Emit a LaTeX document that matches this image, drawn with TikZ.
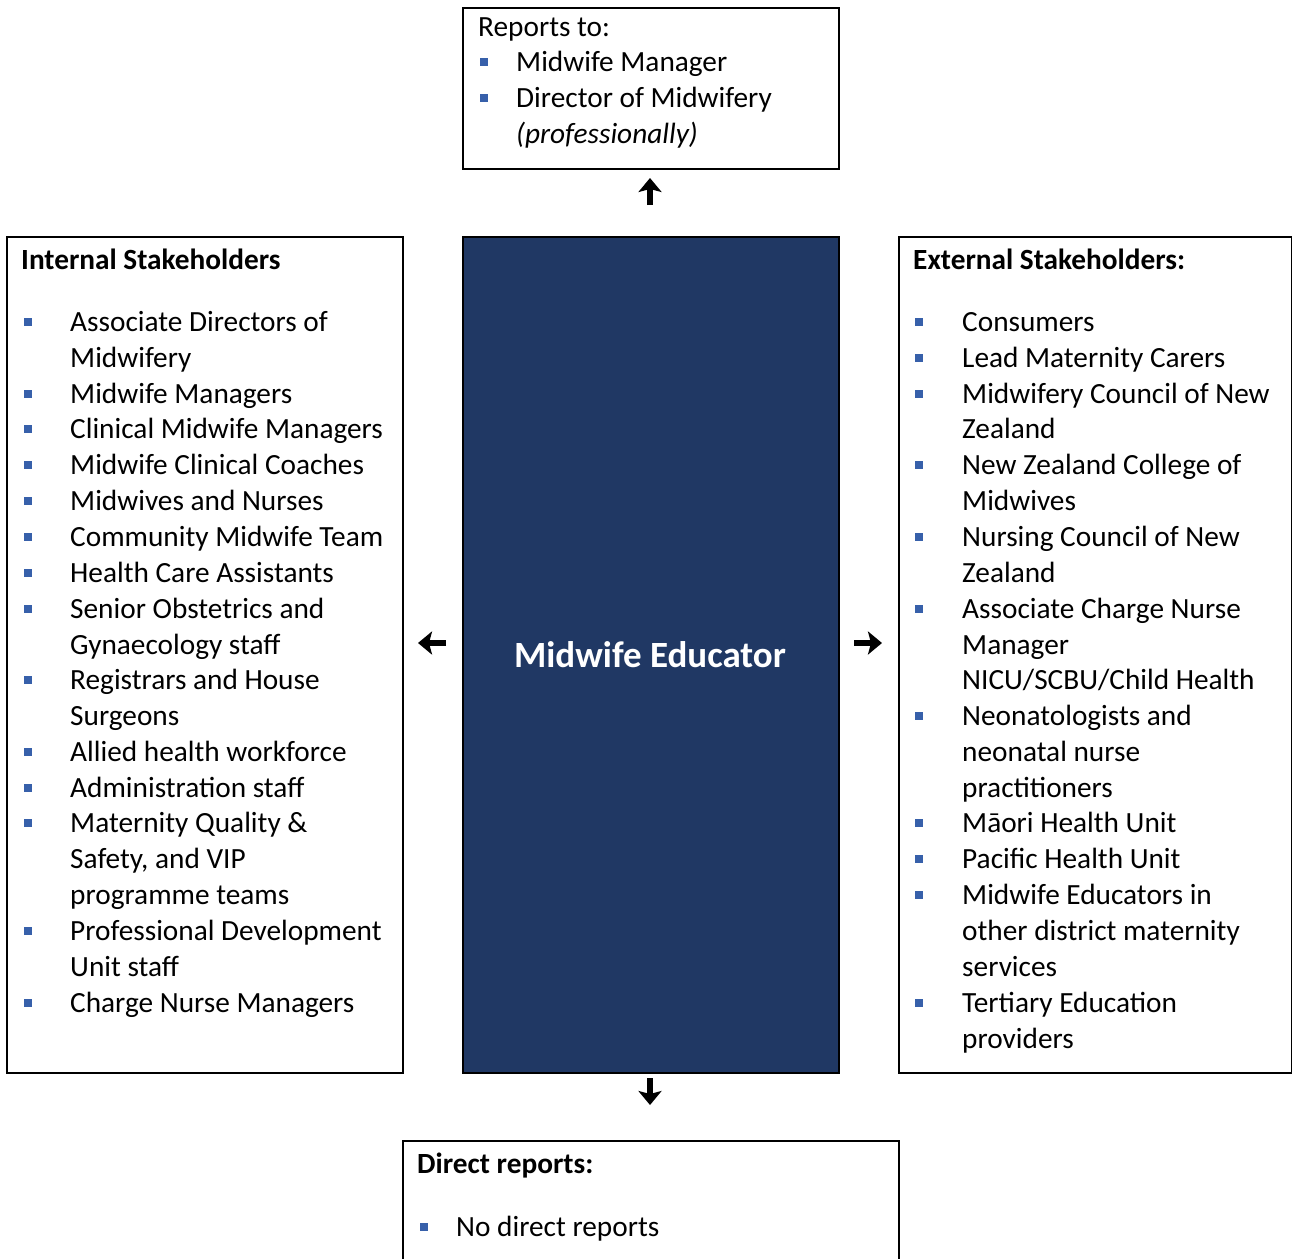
\documentclass[tikz,border=0pt]{standalone}
\usepackage{fontspec}
\setmainfont{Carlito}
\usetikzlibrary{arrows.meta}
\definecolor{navy}{HTML}{203864}
\definecolor{bul}{HTML}{3760AA}
\begin{document}
\begin{tikzpicture}[x=1pt,y=-1pt,
  box/.style={draw=black,line width=2pt,inner sep=0pt,anchor=north west},
  txt/.style={anchor=base west,inner sep=0pt,font=\fontsize{29.3pt}{35.9pt}\selectfont},
  hd/.style={anchor=base west,inner sep=0pt,font=\fontsize{29.3pt}{35.9pt}\selectfont\bfseries},
  bullet/.style={fill=bul,minimum size=8pt,inner sep=0pt,draw=none},
  arr/.style={line width=6pt,-{Stealth[length=14pt,width=23pt,inset=3pt]}}]
\useasboundingbox (0,0) rectangle (1292,1258);
\clip (0,0) rectangle (1292,1258);

% boxes
\node[box,minimum width=376pt,minimum height=161pt] (top) at (461.5,7) {};
\node[box,minimum width=396pt,minimum height=836pt] (left) at (5.5,236) {};
\node[box,fill=navy,minimum width=376pt,minimum height=836pt] (mid) at (461.5,236) {};
\node[box,minimum width=393pt,minimum height=836pt] (right) at (897.5,236) {};
\node[box,minimum width=496pt,minimum height=160pt] (bot) at (401.5,1140) {};

% centre title
\node[font=\fontsize{37pt}{44pt}\selectfont\bfseries,text=white,inner sep=0pt] (title) at (650,655) {Midwife Educator};

% top box
\node[txt] (rt) at (478,36) {Reports to:};
\node[bullet] (tb1) at (484,62) {};
\node[bullet] (tb2) at (484,98) {};
\node[txt] (t1) at (516,71) {Midwife Manager};
\node[txt] (t2) at (516,107) {Director of Midwifery};
\node[txt,font=\fontsize{29.3pt}{35.9pt}\selectfont\itshape] (t3) at (516,143) {(professionally)};

% left list
\node[hd] (lh) at (21,269) {Internal Stakeholders};
\foreach \yy/\tt [count=\i] in {331/Associate Directors of, 367/Midwifery, 403/Midwife Managers,
  438/Clinical Midwife Managers, 474/Midwife Clinical Coaches, 510/Midwives and Nurses,
  546/Community Midwife Team, 582/Health Care Assistants, 618/Senior Obstetrics and,
  654/Gynaecology staff, 689/Registrars and House, 725/Surgeons, 761/Allied health workforce,
  797/Administration staff, 832/Maternity Quality \&, 868/{Safety, and VIP}, 904/programme teams,
  940/Professional Development, 976/Unit staff, 1012/Charge Nurse Managers}
  \node[txt] (L\i) at (70,\yy) {\tt};
\foreach \yy [count=\i] in {322,394,429,465,501,537,573,609,680,752,788,823,931,1003}
  \node[bullet] (LB\i) at (28,\yy) {};

% right list
\node[hd] (rh) at (913,269) {External Stakeholders:};
\foreach \yy/\tt [count=\i] in {331/Consumers, 367/Lead Maternity Carers, 403/Midwifery Council of New,
  438/Zealand, 474/New Zealand College of, 510/Midwives, 546/Nursing Council of New, 582/Zealand,
  618/Associate Charge Nurse, 654/Manager, 689/{NICU/SCBU/Child Health}, 725/Neonatologists and,
  761/neonatal nurse, 797/practitioners, 832/Māori Health Unit, 868/Pacific Health Unit,
  904/Midwife Educators in, 940/other district maternity, 976/services, 1012/Tertiary Education,
  1048/providers}
  \node[txt] (R\i) at (962,\yy) {\tt};
\foreach \yy [count=\i] in {322,358,394,465,537,609,716,823,859,895,1003}
  \node[bullet] (RB\i) at (919,\yy) {};

% bottom box
\node[hd] (bh) at (417,1173) {Direct reports:};
\node[bullet] (bb) at (424,1227) {};
\node[txt] (b1) at (456,1236) {No direct reports};

% arrows
\coordinate (upS) at (650,205); \coordinate (upE) at (650,178);
\coordinate (lS) at (446,643);  \coordinate (lE) at (418,643);
\coordinate (rS) at (854,643);  \coordinate (rE) at (882,643);
\coordinate (dS) at (650,1078); \coordinate (dE) at (650,1105);
\draw[arr] (upS) -- (upE);
\draw[arr] (lS) -- (lE);
\draw[arr] (rS) -- (rE);
\draw[arr] (dS) -- (dE);
\end{tikzpicture}
\end{document}
